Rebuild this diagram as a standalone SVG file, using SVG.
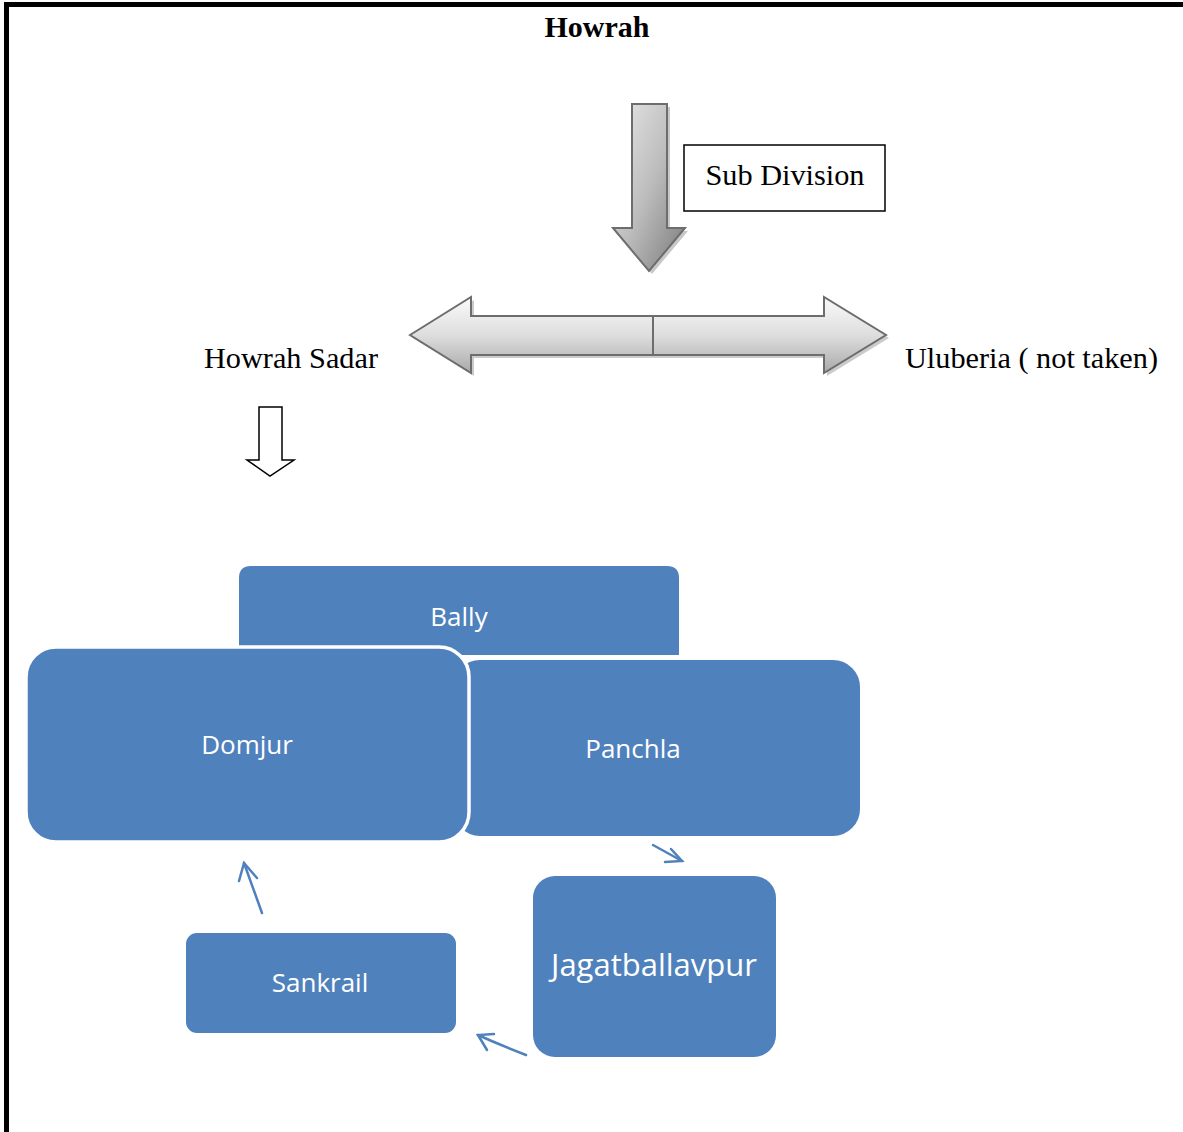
<svg xmlns="http://www.w3.org/2000/svg" width="1183" height="1132" viewBox="0 0 1183 1132">
<style>
.serif{font-family:"Liberation Serif","Times New Roman",serif;fill:#000}
.lbl{font-family:"Open Sans","Noto Sans",sans-serif;fill:#fff;text-anchor:middle}
.box{fill:#4F81BD}
.conn{fill:none;stroke:#4F81BD;stroke-width:2.5;stroke-linecap:round}
</style>
<defs>
<linearGradient id="gDown" x1="0" y1="0" x2="1" y2="1">
<stop offset="0" stop-color="#e8e8e8"/>
<stop offset="0.5" stop-color="#bdbdbd"/>
<stop offset="1" stop-color="#7a7a7a"/>
</linearGradient>
<linearGradient id="gDouble" x1="0" y1="0" x2="0" y2="1">
<stop offset="0" stop-color="#fafafa"/>
<stop offset="0.5" stop-color="#dedede"/>
<stop offset="1" stop-color="#a9a9a9"/>
</linearGradient>
</defs>
<rect width="1183" height="1132" fill="#fff"/>
<!-- page border -->
<rect x="4" y="2" width="1179" height="5" fill="#000"/>
<rect x="4" y="2" width="5" height="1130" fill="#000"/>

<g id="title"><text class="serif" x="597" y="37" font-size="30" font-weight="bold" text-anchor="middle" textLength="105" lengthAdjust="spacingAndGlyphs">Howrah</text></g>

<g id="down-arrow">
<path d="M635,107 H670 V231 H688 L652,274 L616,231 H635 Z" fill="#b0b0b0" opacity="0.7"/>
<path d="M632,104 H667 V228 H685 L649,271 L613,228 H632 Z" fill="url(#gDown)" stroke="#6d6d6d" stroke-width="2"/>
</g>

<g id="subdivision">
<rect x="684" y="145" width="201" height="66" fill="#fff" stroke="#000" stroke-width="1.5"/>
<text class="serif" x="785" y="185" font-size="30" text-anchor="middle" textLength="159" lengthAdjust="spacingAndGlyphs">Sub Division</text>
</g>

<g id="double-arrow">
<path d="M413,338 L474,300 V319 H827 V300 L889,338 L827,376 V358 H474 V376 Z" fill="#b5b5b5" opacity="0.7"/>
<path d="M410,335 L471,297 V316 H824 V297 L886,335 L824,373 V355 H471 V373 Z" fill="url(#gDouble)" stroke="#6d6d6d" stroke-width="2"/>
<line x1="653" y1="316" x2="653" y2="355" stroke="#6d6d6d" stroke-width="2"/>
</g>

<g id="howrah-sadar"><text class="serif" x="204" y="368" font-size="30" textLength="174" lengthAdjust="spacingAndGlyphs">Howrah Sadar</text></g>
<g id="uluberia"><text class="serif" x="905" y="368" font-size="30" textLength="253" lengthAdjust="spacingAndGlyphs">Uluberia ( not taken)</text></g>

<g id="sadar-arrow">
<path d="M259,407 H282 V460 H294 L270,476 L247,460 H259 Z" fill="#fff" stroke="#000" stroke-width="1.5"/>
</g>

<g id="bally">
<path d="M239,578 Q239,566 251,566 H667 Q679,566 679,578 V655 H239 Z" class="box"/>
<text class="lbl" x="459" y="626" font-size="26">Bally</text>
</g>

<g id="panchla">
<rect x="452" y="659" width="409" height="178" rx="28" class="box" stroke="#fff" stroke-width="2"/>
<text class="lbl" x="633" y="758" font-size="26">Panchla</text>
</g>

<g id="domjur">
<rect x="26" y="647" width="443" height="195" rx="30" class="box" stroke="#fff" stroke-width="3.5"/>
<text class="lbl" x="247" y="754" font-size="26">Domjur</text>
</g>

<g id="jagatballavpur">
<rect x="533" y="876" width="243" height="181" rx="22" class="box"/>
<text class="lbl" x="654" y="976" font-size="31">Jagatballavpur</text>
</g>

<g id="sankrail">
<rect x="186" y="933" width="270" height="100" rx="11" class="box"/>
<text class="lbl" x="320" y="992" font-size="26">Sankrail</text>
</g>

<g id="connectors">
<path class="conn" d="M653,845 L682,861"/>
<path class="conn" d="M671,849 L682,861 L665,862"/>
<path class="conn" d="M262,913 L244,863"/>
<path class="conn" d="M239,881 L244,863 L257,878"/>
<path class="conn" d="M526,1055 Q500,1045 478,1035"/>
<path class="conn" d="M494,1034 L478,1035 L487,1050"/>
</g>
</svg>
